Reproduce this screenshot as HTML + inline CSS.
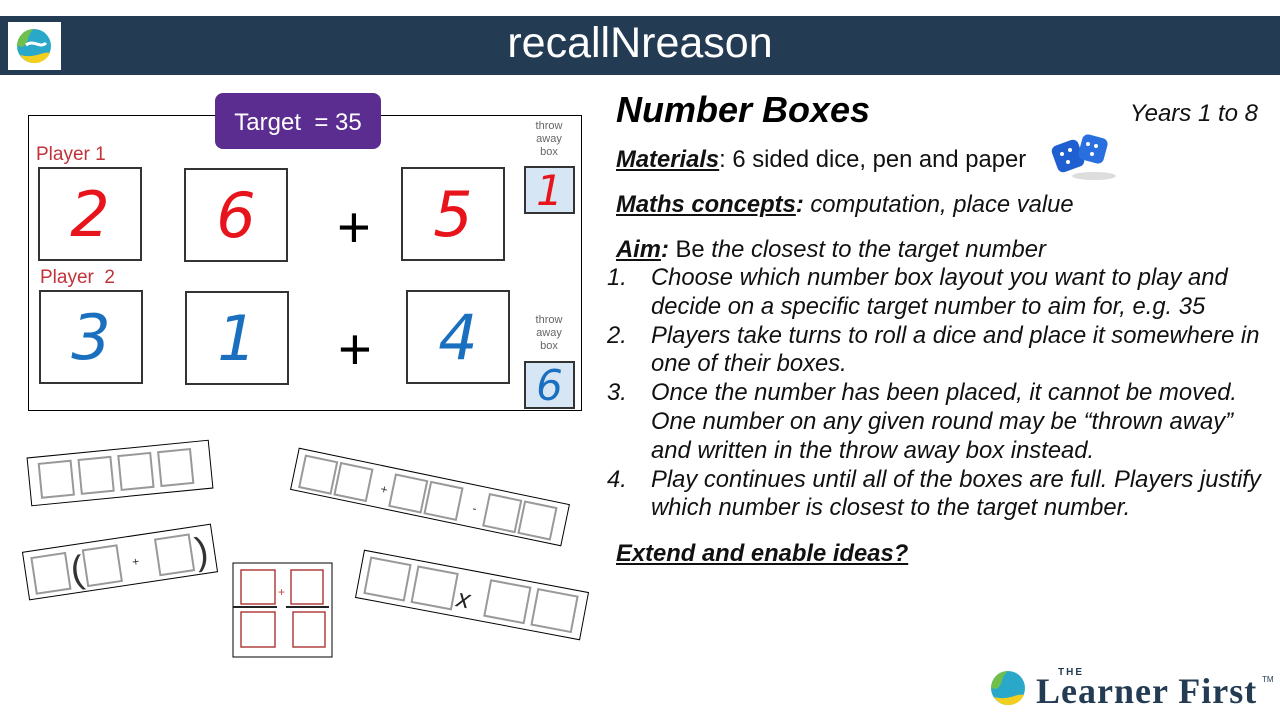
<!DOCTYPE html>
<html><head><meta charset="utf-8"><style>
body{margin:0;width:1280px;height:720px;position:relative;background:#fff;font-family:"Liberation Sans",sans-serif;overflow:hidden}
.a{position:absolute}
.bx{position:absolute;border:2px solid #333;background:#fff;box-sizing:border-box;display:flex;align-items:center;justify-content:center;font-family:"Comic Sans MS","DejaVu Sans",sans-serif;font-style:italic;font-size:62px}
.r{color:#e8141c}.b{color:#1a6fbf}
.t{position:absolute;font-size:23.8px;font-style:italic;color:#111;white-space:nowrap}
.n{position:absolute;font-size:23.8px;font-style:italic;color:#111}
.tw{position:absolute;font-size:11px;color:#666;text-align:center;line-height:13px;width:40px}
.tb{position:absolute;background:#d6e6f4;border:2px solid #333;box-sizing:border-box;display:flex;align-items:center;justify-content:center;font-family:"DejaVu Sans",sans-serif;font-style:italic;font-size:42px}
.pl{position:absolute;color:#c0333a;font-size:19px}
</style></head><body>
<div class="a" style="left:0;top:16px;width:1280px;height:59px;background:#243c53"></div>
<div class="a" style="left:8px;top:22px;width:53px;height:48px;background:#fff"></div>
<svg class="a" style="left:12px;top:25px" width="44" height="42" viewBox="0 0 44 42">
<circle cx="22" cy="21" r="17" fill="#2aa8c9"/><path d="M5 21 A17 17 0 0 1 22 4 C14 10 18 18 10 22Z" fill="#6fbf4a"/><path d="M8 30 A17 17 0 0 0 38 28 C30 26 24 34 8 30Z" fill="#f2cf1f"/><path d="M14 20 C22 14 28 24 34 18" stroke="#fff" stroke-width="3" fill="none"/></svg>
<div class="a" style="left:0;width:1280px;top:19px;text-align:center;color:#fff;font-size:43px">recallNreason</div>

<div class="a" style="left:28px;top:115px;width:554px;height:296px;border:1px solid #000;box-sizing:border-box"></div>
<div class="a" style="left:215px;top:93px;width:166px;height:56px;background:#5b2d91;border-radius:8px;color:#fff;font-size:24px;display:flex;align-items:center;justify-content:center;padding-top:4px;box-sizing:border-box">Target &nbsp;= 35</div>
<div class="pl" style="left:36px;top:144px">Player 1</div>
<div class="pl" style="left:40px;top:267px">Player &nbsp;2</div>
<div class="bx r" style="left:38px;top:167px;width:104px;height:94px">2</div>
<div class="bx r" style="left:184px;top:168px;width:104px;height:94px">6</div>
<div class="a" style="left:337px;top:198px;font-size:58px;line-height:60px">+</div>
<div class="bx r" style="left:401px;top:167px;width:104px;height:94px">5</div>
<div class="tw" style="left:529px;top:120px">throw<br>away<br>box</div>
<div class="tb r" style="left:524px;top:166px;width:51px;height:48px">1</div>
<div class="bx b" style="left:39px;top:290px;width:104px;height:94px">3</div>
<div class="bx b" style="left:185px;top:291px;width:104px;height:94px">1</div>
<div class="a" style="left:338px;top:320px;font-size:58px;line-height:60px">+</div>
<div class="bx b" style="left:406px;top:290px;width:104px;height:94px">4</div>
<div class="tw" style="left:529px;top:314px">throw<br>away<br>box</div>
<div class="tb b" style="left:524px;top:361px;width:51px;height:48px">6</div>

<svg class="a" style="left:0;top:420px" width="600" height="260" viewBox="0 420 600 260">
<g fill="none" stroke="#999" stroke-width="2">
<g transform="translate(120,473) rotate(-5.6)"><rect x="-91" y="-24" width="182" height="48" stroke="#000" stroke-width="1" fill="#fff"/>
<rect x="-80" y="-17" width="32" height="34"/><rect x="-40" y="-17" width="32" height="34"/><rect x="0" y="-17" width="32" height="34"/><rect x="40" y="-17" width="32" height="34"/></g>
<g transform="translate(430,497) rotate(11.8)"><rect x="-138" y="-21" width="276" height="42" stroke="#000" stroke-width="1" fill="#fff"/>
<rect x="-130" y="-15" width="32" height="32"/><rect x="-94" y="-15" width="32" height="32"/><rect x="-38" y="-15" width="32" height="32"/><rect x="-2" y="-15" width="32" height="32"/><rect x="58" y="-15" width="32" height="32"/><rect x="94" y="-15" width="32" height="32"/>
<text x="-50" y="6" font-size="12" fill="#333" stroke="none">+</text><text x="44" y="6" font-size="12" fill="#333" stroke="none">-</text></g>
<g transform="translate(120,562) rotate(-8.5)"><rect x="-95" y="-24" width="190" height="48" stroke="#000" stroke-width="1" fill="#fff"/>
<rect x="-87" y="-17" width="34" height="36"/><rect x="-35" y="-17" width="34" height="36"/><rect x="38" y="-17" width="34" height="36"/>
<text x="-50" y="14" font-size="38" fill="#333" stroke="none">(</text><text x="76" y="14" font-size="38" fill="#333" stroke="none">)</text><text x="12" y="6" font-size="12" fill="#333" stroke="none">+</text></g>
<g transform="translate(472,595) rotate(10.7)"><rect x="-114" y="-24" width="228" height="48" stroke="#000" stroke-width="1" fill="#fff"/>
<rect x="-106" y="-18" width="40" height="36"/><rect x="-58" y="-18" width="40" height="36"/><rect x="16" y="-18" width="40" height="36"/><rect x="64" y="-18" width="40" height="36"/>
<text x="-14" y="14" font-size="26" fill="#222" stroke="none" font-style="italic">x</text></g>
<rect x="233" y="563" width="99" height="94" stroke="#000" stroke-width="1" fill="#fff"/>
<g stroke="#b04040" stroke-width="1.5"><rect x="241" y="570" width="34" height="34"/><rect x="291" y="570" width="32" height="34"/><rect x="241" y="612" width="34" height="35"/><rect x="293" y="612" width="32" height="35"/></g>
<line x1="233" y1="607" x2="277" y2="607" stroke="#222" stroke-width="2"/><line x1="286" y1="607" x2="329" y2="607" stroke="#222" stroke-width="2"/>
<text x="278" y="596" font-size="12" fill="#c04040" stroke="none">+</text>
</g></svg>

<div class="a" style="left:616px;top:89px;font-size:36px;font-weight:bold;font-style:italic">Number Boxes</div>
<div class="t" style="right:22px;top:100px;font-size:24px">Years 1 to 8</div>
<div class="t" style="left:616px;top:146px;font-style:normal"><b><i><u>Materials</u></i></b>: 6 sided dice, pen and paper</div>
<svg class="a" style="left:1048px;top:132px" width="72" height="50"><rect x="6" y="10" width="28" height="28" rx="6" fill="#1f5fcf" transform="rotate(-20 20 24)"/><rect x="32" y="4" width="26" height="26" rx="6" fill="#2a6fe0" transform="rotate(15 45 17)"/><g fill="#fff"><circle cx="14" cy="22" r="2"/><circle cx="22" cy="18" r="2"/><circle cx="20" cy="30" r="2"/><circle cx="40" cy="12" r="2"/><circle cx="48" cy="14" r="2"/><circle cx="44" cy="22" r="2"/></g><ellipse cx="46" cy="44" rx="22" ry="4" fill="#ddd"/></svg>
<div class="t" style="left:616px;top:191px"><b><u>Maths concepts</u>:</b> computation, place value</div>
<div class="t" style="left:616px;top:236px;font-style:normal"><b><i><u>Aim</u>:</i></b> Be <i>the closest to the target number</i></div>
<div class="n" style="left:607px;top:264px;line-height:28.8px">1.<br><br>2.<br><br>3.<br><br><br>4.</div>
<div class="n" style="left:651px;top:264px;line-height:28.8px;white-space:nowrap">Choose which number box layout you want to play and<br>decide on a specific target number to aim for, e.g. 35<br>Players take turns to roll a dice and place it somewhere in<br>one of their boxes.<br>Once the number has been placed, it cannot be moved.<br>One number on any given round may be “thrown away”<br>and written in the throw away box instead.<br>Play continues until all of the boxes are full. Players justify<br>which number is closest to the target number.</div>
<div class="t" style="left:616px;top:540px;font-weight:bold"><u>Extend and enable ideas?</u></div>

<svg class="a" style="left:988px;top:669px" width="40" height="38"><circle cx="20" cy="19" r="17" fill="#2aa8c9"/><path d="M3 19 A17 17 0 0 1 20 2 C12 8 16 16 8 20Z" fill="#6fbf4a"/><path d="M6 28 A17 17 0 0 0 36 26 C28 24 22 32 6 28Z" fill="#f2cf1f"/></svg>
<div class="a" style="left:1058px;top:667px;font-size:10px;font-weight:bold;color:#243c53;letter-spacing:2px">THE</div>
<div class="a" style="left:1036px;top:670px;font-family:'Liberation Serif',serif;font-weight:bold;font-size:36px;letter-spacing:1px;color:#243c53">Learner First</div>
<div class="a" style="left:1262px;top:675px;font-size:8px;color:#243c53">TM</div>
</body></html>
